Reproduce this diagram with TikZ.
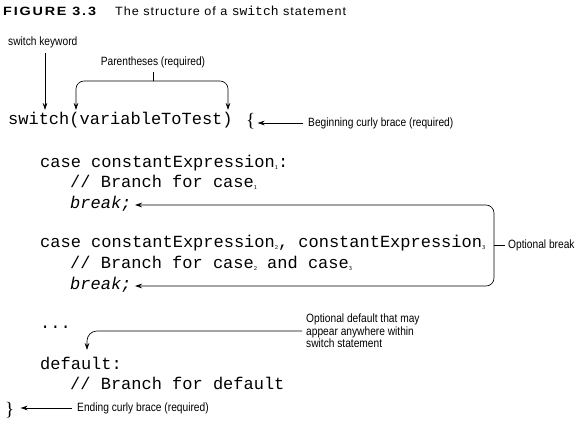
\documentclass[tikz,border=0pt]{standalone}
\usepackage{fontspec}
\setmainfont{Liberation Sans}
\setmonofont{Liberation Mono}
\newfontfamily\narrowfont[FakeStretch=0.85]{Liberation Sans}
\newfontfamily\titlefont[FakeStretch=1.2,LetterSpace=15]{Liberation Sans}
\newfontfamily\capfont[FakeStretch=1.05,LetterSpace=8]{Liberation Sans}
\newfontfamily\bracefont{Liberation Serif}
\usetikzlibrary{calc, positioning}
\usetikzlibrary{arrows.meta}

\newcommand{\csub}[1]{\raisebox{-2pt}{\fontsize{6}{6}\selectfont\sffamily #1}}

\tikzset{
  code/.style={anchor=base west, inner sep=0pt, font=\fontsize{17}{17}\selectfont\ttfamily},
  curly/.style={anchor=base west, inner sep=0pt, font=\fontsize{19}{19}\selectfont\bracefont},
  note/.style={anchor=west, inner sep=0pt, align=left, font=\fontsize{12}{12.5}\selectfont\narrowfont},
  pointer/.style={-{Stealth[length=7pt,width=4.5pt]}, line width=0.65pt},
}

\begin{document}
\begin{tikzpicture}[x=1pt,y=-1pt]
\useasboundingbox (0,0) rectangle (583,423);

% caption
\node[anchor=base west, inner sep=0pt, font=\fontsize{12}{12}\selectfont\titlefont\bfseries] (fig) at (3,15) {FIGURE 3.3};
\node[anchor=base west, inner sep=0pt, font=\fontsize{12}{12}\selectfont\capfont] (cap) at (115,15) {The structure of a {\fontsize{13}{13}\selectfont\ttfamily switch} statement};

% code lines
\node[code] (sw) at (8,124) {switch(variableToTest)};
\node[curly] (lbrace) at (246,126) {\{};
\node[code] (case1) at (40,167) {case constantExpression\csub{1}:};
\node[code] (br1) at (70,187) {// Branch for case\csub{1}};
\node[code] (brk1) at (70,208) {\textit{break;}};
\node[code] (case2) at (40,247) {case constantExpression\csub{2}, constantExpression\csub{3}};
\node[code] (br2) at (70,268) {// Branch for case\csub{2} and case\csub{3}};
\node[code] (brk2) at (70,289) {\textit{break;}};
\node[code] (dots) at (40,328) {...};
\node[code] (dflt) at (40,369) {default:};
\node[code] (brd) at (70,389) {// Branch for default};
\node[curly] (rbrace) at (5,415) {\}};

% notes
\node[note] (kw) at (8,42) {switch keyword};
\node[note, anchor=center] (paren) at (153,62) {Parentheses (required)};
\node[note] (bgn) at (308,123) {Beginning curly brace (required)};
\node[note] (opt) at (508,245) {Optional break};
\node[note] (optdef) at (306,331) {Optional default that may\\appear anywhere within\\switch statement};
\node[note] (endl) at (77,408) {Ending curly brace (required)};

% connectors
\coordinate (lp) at (76,110);
\coordinate (rp) at (228,110);
\coordinate (pmid) at (paren.south |- 0,81);
\coordinate (bx) at (494,245);
\coordinate (tip1) at (135,205);
\coordinate (tip2) at (135,286);
\coordinate (deftip) at (87,350);

\draw[pointer] (kw.south -| 45,0) ++(0,5) -- (45,110);
\draw[line width=0.65pt] ($(paren.south)+(0,4)$) -- (pmid);
\draw[pointer, rounded corners=8pt] (pmid) -| (lp);
\draw[pointer, rounded corners=8pt] (pmid) -| (rp);
\draw[pointer] ($(bgn.west)+(-5,0)$) -- ($(lbrace.east |- bgn.west)+(2,0)$);
\draw[pointer, rounded corners=8pt] (bx) |- (tip1);
\draw[pointer, rounded corners=8pt] (bx) |- (tip2);
\draw[line width=0.65pt] (bx) -- ($(opt.west)+(-3,0)$);
\draw[pointer, rounded corners=10pt] ($(optdef.west)+(-4,0)$) -| (deftip);
\draw[pointer] ($(endl.west)+(-5,0)$) -- ($(rbrace.east |- endl.west)+(6,0)$);
\end{tikzpicture}
\end{document}
